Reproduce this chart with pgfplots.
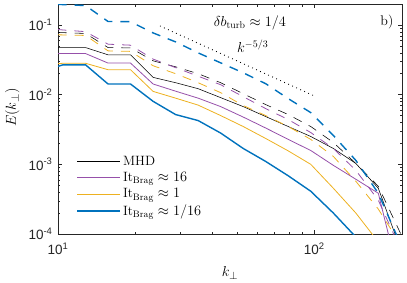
\documentclass[border=0pt]{standalone}
\usepackage{fontspec}
\setsansfont{Liberation Sans}
\usepackage{pgfplots}
\usepackage{pgfplotstable}
\pgfplotsset{compat=1.18}
\definecolor{mblue}{RGB}{0,114,189}
\definecolor{myellow}{RGB}{237,177,32}
\definecolor{mpurple}{RGB}{150,80,170}
\definecolor{maxis}{RGB}{38,38,38}
\pgfplotstableread{
k      ms        ps        ys        bs        md        pd        yd        bd
8.55   0.0474    0.0389    0.0268    0.0213    0.0794    0.0906    0.0732    0.1995
10.46  0.0474    0.0389    0.0282    0.0268    0.0776    0.0848    0.0720    0.1963
12.81  0.0474    0.0389    0.0282    0.0268    0.0756    0.0802    0.0708    0.1900
15.68  0.0373    0.0284    0.0228    0.01422   0.0474    0.0530    0.0425    0.1122
19.19  0.0373    0.0284    0.0228    0.01422   0.0469    0.0513    0.0418    0.1114
23.50  0.0177    0.01422   0.01114   0.00802   0.0306    0.0324    0.0260    0.0769
28.77  0.01484   0.01122   0.00891   0.00518   0.0251    0.0244    0.0200    0.0572
35.23  0.01218   0.00891   0.00708   0.00425   0.0200    0.0184    0.01484   0.0398
43.13  0.00906   0.00674   0.00501   0.00281   0.01484   0.01389   0.01068   0.0286
52.81  0.00674   0.00477   0.00349   0.00169   0.01033   0.00936   0.00697   0.0206
64.65  0.00485   0.00332   0.00235   0.00110   0.00720   0.00631   0.00501   0.01436
79.15  0.00349   0.00228   0.00156   0.000685  0.00518   0.00439   0.00349   0.00877
96.9   0.00251   0.00158   0.00100   0.000411  0.00349   0.00286   0.00228   0.00553
118.7  0.00169   0.000967  0.000454  0.000200  0.00206   0.00169   0.00130   0.00260
145.3  0.00103   0.000611  0.000200  0.0000906 0.00103   0.000821  0.000571  0.00114
177.8  0.000454  0.000385  0.0000769 0.0000361 0.000485  0.000306  0.000228  0.000385
217.7  0.0000591 0.0000187 0.0000220 0.0000114 0.0001    0.0000591 0.0000697 0.0000697
}\spectra
\begin{document}
\begin{tikzpicture}
\begin{axis}[
  at={(0,0)}, anchor=south west,
  scale only axis, width=344pt, height=230pt,
  xmode=log, ymode=log,
  xmin=10, xmax=220, ymin=1e-4, ymax=0.2,
  axis line style={maxis, line width=0.5pt},
  every tick/.style={maxis, line width=0.4pt},
  major tick length=4.5pt, minor tick length=2.5pt,
  tick align=inside,
  xtick={10,100}, xticklabels={10\textsuperscript{1},10\textsuperscript{2}},
  ytick={1e-4,1e-3,1e-2,1e-1},
  yticklabels={10\textsuperscript{-4},10\textsuperscript{-3},10\textsuperscript{-2},10\textsuperscript{-1}},
  tick label style={font=\sffamily\fontsize{13.5}{15}\selectfont, text=maxis},
  xticklabel style={yshift=-5pt},
  yticklabel style={xshift=-2pt},
  xlabel={$k_\perp$}, ylabel={$E(k_\perp)$},
  label style={font=\fontsize{15}{17}\selectfont},
  xlabel style={at={(rel axis cs:0.5,0)}, anchor=north, yshift=-29pt},
  ylabel style={at={(rel axis cs:0,0.55)}, anchor=south, yshift=35pt},
  legend style={at={(rel axis cs:0.045,0.358)}, anchor=north west, draw=none, fill=none,
    font=\fontsize{13.5}{14}\selectfont, row sep=1.6pt},
  legend cell align=left,
  legend image code/.code={\draw[#1] (0pt,0pt) -- (38pt,0pt); \path (0pt,0pt) -- (43pt,0pt);},
  clip=true,
]
\addplot[black, line width=0.55pt] table[x=k,y=ms]{\spectra};
\addlegendentry{MHD}
\addplot[mpurple, line width=0.8pt] table[x=k,y=ps]{\spectra};
\addlegendentry{It$_{\mathrm{Brag}}\approx 16$}
\addplot[myellow, line width=0.8pt] table[x=k,y=ys]{\spectra};
\addlegendentry{It$_{\mathrm{Brag}}\approx 1$}
\addplot[mblue, line width=1.4pt] table[x=k,y=bs]{\spectra};
\addlegendentry{It$_{\mathrm{Brag}}\approx 1/16$}
\addplot[black, line width=0.55pt, dash pattern=on 9pt off 8pt, forget plot] table[x=k,y=md]{\spectra};
\addplot[mpurple, line width=0.8pt, dash pattern=on 9pt off 8pt, forget plot] table[x=k,y=pd]{\spectra};
\addplot[myellow, line width=0.8pt, dash pattern=on 9pt off 8pt, forget plot] table[x=k,y=yd]{\spectra};
\addplot[mblue, line width=1.4pt, dash pattern=on 9pt off 8pt, forget plot] table[x=k,y=bd]{\spectra};
\addplot[black, line width=0.9pt, dash pattern=on 0.8pt off 3.6pt, forget plot] coordinates {(25,0.0968) (100,0.0096)};
\node[font=\fontsize{14}{16}\selectfont] at (rel axis cs:0.558,0.92) {$\delta b_{\mathrm{turb}}\approx 1/4$};
\node[font=\fontsize{14}{16}\selectfont] at (rel axis cs:0.956,0.92) {b)};
\node[font=\fontsize{14}{16}\selectfont] at (rel axis cs:0.566,0.815) {$k^{-5/3}$};
\end{axis}
\pgfresetboundingbox
\useasboundingbox (-58pt,-48pt) rectangle (349pt,234pt);
\end{tikzpicture}
\end{document}
